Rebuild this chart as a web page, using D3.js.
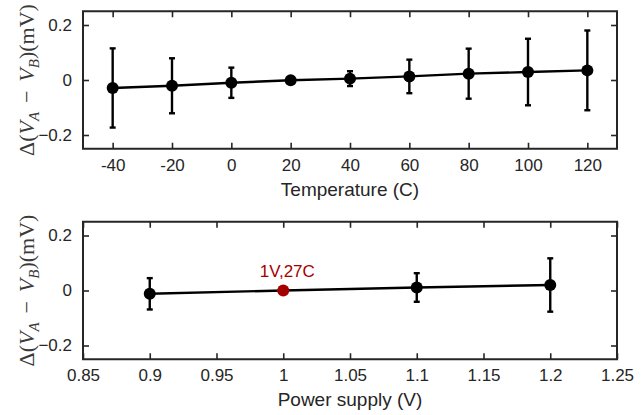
<!DOCTYPE html>
<html>
<head>
<meta charset="utf-8">
<script src="https://cdn.jsdelivr.net/npm/d3@7"></script>
<style>
  body { margin: 0; background: #fff; }
  svg { display: block; }
</style>
</head>
<body>
<script>
// ! Data
const tempX = [-40, -20, 0, 20, 40, 60, 80, 100, 120];
const tempY = [-0.029, -0.021, -0.010, -0.001, 0.005, 0.013, 0.023, 0.029, 0.035];
const tempErr = [0.144, 0.100, 0.055, 0.008, 0.027, 0.061, 0.091, 0.121, 0.145];

const supplyX = [0.9, 1.0, 1.1, 1.2];
const supplyY = [-0.012, 0, 0.011, 0.020];
const supplyErr = [0.057, 0, 0.052, 0.097];

const tempTicks = [-40, -20, 0, 20, 40, 60, 80, 100, 120];
const supplyTicks = [0.85, 0.9, 0.95, 1, 1.05, 1.1, 1.15, 1.2, 1.25];
const yTicks = [-0.2, 0, 0.2];

const width = 642;
const height = 415;
const axisColor = "#262626";

const svg = d3
  .select("body")
  .append("svg")
  .attr("width", width)
  .attr("height", height);

// ! One panel: box, ticks on all sides, error bars, line, markers
const drawPanel = (opts) => {
  const { top, bottom, xDomain, xTicks, xs, ys, errs, title, tickFmt, highlight } = opts;
  const left = 83;
  const right = 617;

  const x = d3.scaleLinear().domain(xDomain).range([left, right]);
  const y = d3.scaleLinear().domain([-0.25, 0.25]).range([bottom, top]);

  const g = svg.append("g");

  // bottom + top ticks
  g.append("g")
    .attr("transform", `translate(0, ${bottom})`)
    .call(d3.axisBottom(x).tickValues(xTicks).tickSize(-6).tickPadding(10).tickFormat(tickFmt))
    .call((a) => a.select(".domain").remove());
  g.append("g")
    .attr("transform", `translate(0, ${top})`)
    .call(d3.axisTop(x).tickValues(xTicks).tickSize(-6).tickFormat(""))
    .call((a) => a.select(".domain").remove());
  // left + right ticks
  g.append("g")
    .attr("transform", `translate(${left}, 0)`)
    .call(d3.axisLeft(y).tickValues(yTicks).tickSize(-6).tickPadding(11).tickFormat((d) => (d === 0 ? "0" : d3.format(".1f")(d))))
    .call((a) => a.select(".domain").remove());
  g.append("g")
    .attr("transform", `translate(${right}, 0)`)
    .call(d3.axisRight(y).tickValues(yTicks).tickSize(-6).tickFormat(""))
    .call((a) => a.select(".domain").remove());

  g.selectAll(".tick line").attr("stroke", axisColor).attr("stroke-width", 1.6);
  g.selectAll(".tick text")
    .attr("fill", axisColor)
    .style("font-family", "Liberation Sans, Arial, sans-serif")
    .style("font-size", "17px");

  // frame
  g.append("rect")
    .attr("x", left)
    .attr("y", top)
    .attr("width", right - left)
    .attr("height", bottom - top)
    .attr("fill", "none")
    .attr("stroke", axisColor)
    .attr("stroke-width", 2);

  // x title
  g.append("text")
    .attr("x", (left + right) / 2)
    .attr("y", bottom + 47)
    .attr("text-anchor", "middle")
    .attr("fill", axisColor)
    .style("font-family", "Liberation Sans, Arial, sans-serif")
    .style("font-size", "19px")
    .text(title);

  // y title (math style)
  const yl = g.append("text")
    .attr("transform", `translate(34, ${(top + bottom) / 2}) rotate(-90)`)
    .attr("text-anchor", "middle")
    .attr("fill", "#3a3a3a")
    .style("font-family", "Liberation Serif, Times New Roman, serif")
    .style("font-size", "22px");
  yl.append("tspan").text("\u0394(");
  yl.append("tspan").style("font-style", "italic").text("V");
  yl.append("tspan").style("font-style", "italic").style("font-size", "15px").attr("dy", 5).text("A");
  yl.append("tspan").attr("dy", -5).text("\u2009\u2009\u2212\u2009\u2009");
  yl.append("tspan").style("font-style", "italic").text("V");
  yl.append("tspan").style("font-style", "italic").style("font-size", "15px").attr("dy", 5).text("B");
  yl.append("tspan").attr("dy", -5).text(")(mV)");

  const pts = xs.map((d, i) => ({ x: d, y: ys[i], e: errs[i], i }));

  // error bars
  const eb = g.append("g")
    .selectAll("g")
    .data(pts.filter((d) => d.e > 0))
    .enter()
    .append("g")
    .attr("stroke", "#000")
    .attr("stroke-width", 2.4);
  eb.append("line")
    .attr("x1", (d) => x(d.x))
    .attr("x2", (d) => x(d.x))
    .attr("y1", (d) => y(d.y - d.e))
    .attr("y2", (d) => y(d.y + d.e));
  eb.append("line")
    .attr("x1", (d) => x(d.x) - 3)
    .attr("x2", (d) => x(d.x) + 3)
    .attr("y1", (d) => y(d.y + d.e))
    .attr("y2", (d) => y(d.y + d.e));
  eb.append("line")
    .attr("x1", (d) => x(d.x) - 3)
    .attr("x2", (d) => x(d.x) + 3)
    .attr("y1", (d) => y(d.y - d.e))
    .attr("y2", (d) => y(d.y - d.e));

  // connecting line
  g.append("path")
    .datum(pts)
    .attr("fill", "none")
    .attr("stroke", "#000")
    .attr("stroke-width", 2.4)
    .attr("d", d3.line().x((d) => x(d.x)).y((d) => y(d.y)));

  // markers
  g.append("g")
    .selectAll("circle")
    .data(pts)
    .enter()
    .append("circle")
    .attr("cx", (d) => x(d.x))
    .attr("cy", (d) => y(d.y))
    .attr("r", 6)
    .attr("fill", (d) => (highlight && d.i === highlight.index ? highlight.color : "#000"));

  if (highlight) {
    const p = pts[highlight.index];
    g.append("text")
      .attr("x", x(p.x) + 4)
      .attr("y", y(p.y) - 14)
      .attr("text-anchor", "middle")
      .attr("fill", highlight.color)
      .style("font-family", "Liberation Sans, Arial, sans-serif")
      .style("font-size", "17px")
      .text(highlight.label);
  }
};

drawPanel({
  top: 11.25,
  bottom: 148.75,
  xDomain: [-50, 130],
  xTicks: tempTicks,
  xs: tempX,
  ys: tempY,
  errs: tempErr,
  title: "Temperature (C)",
  tickFmt: (d) => d
});

drawPanel({
  top: 221.75,
  bottom: 359.25,
  xDomain: [0.85, 1.25],
  xTicks: supplyTicks,
  xs: supplyX,
  ys: supplyY,
  errs: supplyErr,
  title: "Power supply (V)",
  tickFmt: (d) => d3.format("")(+d.toFixed(2)),
  highlight: { index: 1, color: "#a50000", label: "1V,27C" }
});
</script>
</body>
</html>
